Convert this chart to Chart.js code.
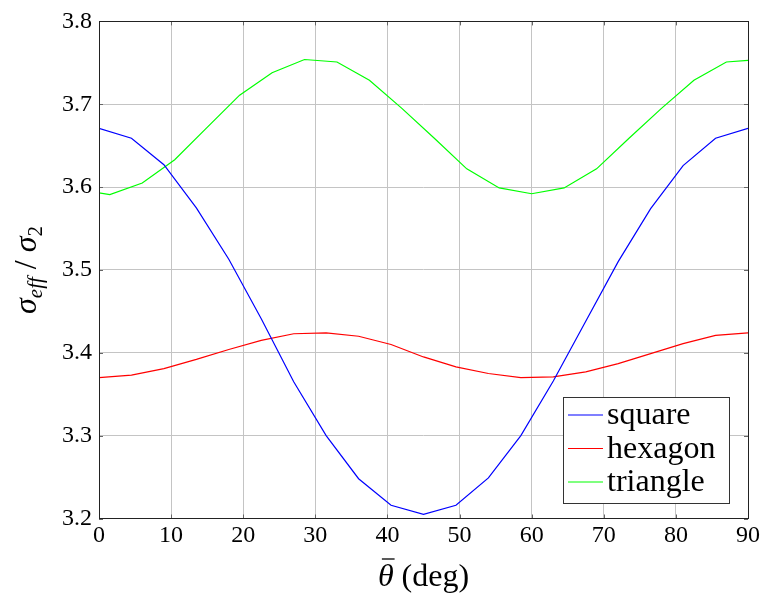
<!DOCTYPE html>
<html>
<head>
<meta charset="utf-8">
<script src="https://cdn.jsdelivr.net/npm/chart.js@4/dist/chart.umd.min.js"></script>
</head>
<body style="margin:0">
<canvas id="warm" width="40" height="20" style="position:absolute;left:0;top:580px;opacity:0"></canvas>
<div id="wrap" style="width:763px;height:598px"><canvas id="chart"></canvas></div>
<div style="position:absolute;left:0;top:590px;font:8px 'Liberation Serif';color:rgba(0,0,0,0)">σ <i>θ</i></div>
<script>
const SERIF = "'Liberation Serif'";

// sample angles (deg)
const thetaGrid = [0, 4.5, 9, 13.5, 18, 22.5, 27, 31.5, 36, 40.5, 45, 49.5, 54, 58.5, 63, 67.5, 72, 76.5, 81, 85.5, 90];
const thetaTriangle = [0, 1.5, 6, 10.5, 15, 19.5, 24, 28.5, 33, 37.5, 42, 46.5, 51, 55.5, 60, 64.5, 69, 73.5, 78, 82.5, 87, 90];

const squareVals = [3.671, 3.659, 3.627, 3.575, 3.513, 3.441, 3.365, 3.300, 3.248, 3.216, 3.205,
	3.216, 3.249, 3.300, 3.366, 3.438, 3.510, 3.574, 3.626, 3.659, 3.671];
const hexagonVals = [3.370, 3.373, 3.381, 3.392, 3.404, 3.415, 3.423, 3.424, 3.420, 3.410, 3.395,
	3.383, 3.375, 3.370, 3.371, 3.377, 3.387, 3.399, 3.411, 3.421, 3.424];
const triangleVals = [3.593, 3.591, 3.605, 3.633, 3.672, 3.711, 3.738, 3.754, 3.751, 3.729, 3.695,
	3.659, 3.622, 3.599, 3.592, 3.599, 3.622, 3.659, 3.695, 3.729, 3.751, 3.753];

const seriesLabels = ["square", "hexagon", "triangle"];
const seriesColors = ["#0000ff", "#ff0000", "#00ff00"];

const xTicks = [0, 10, 20, 30, 40, 50, 60, 70, 80, 90];
const yTicks = [3.2, 3.3, 3.4, 3.5, 3.6, 3.7, 3.8];

// draw once with the serif face on an attached canvas so it is resolved before Chart.js measures
(function warmFonts() {
	const c = document.getElementById("warm").getContext("2d");
	c.font = "28px " + SERIF;
	c.fillText("3.5 hexagon", 0, 18);
	c.font = "italic 28px " + SERIF;
	c.fillText("σθ eff", 0, 18);
})();

function toPoints(xs, ys) {
	return xs.map((x, i) => ({ x: x, y: ys[i] }));
}

function makeSet(i, xs, ys) {
	return {
		label: seriesLabels[i],
		data: toPoints(xs, ys),
		borderColor: seriesColors[i],
		backgroundColor: seriesColors[i],
		borderWidth: 1.2,
		pointRadius: 0,
		tension: 0,
		fill: false,
	};
}

// frame, inward ticks, axis titles and legend box
const decorPlugin = {
	id: "decor",
	afterDraw(chart) {
		const ctx = chart.ctx;
		const a = chart.chartArea;
		const xs = chart.scales.x, ys = chart.scales.y;
		ctx.save();

		// inward ticks
		ctx.strokeStyle = "#666";
		ctx.lineWidth = 1;
		ctx.beginPath();
		xTicks.forEach(v => {
			const px = Math.round(xs.getPixelForValue(v)) + 0.5;
			ctx.moveTo(px, a.bottom); ctx.lineTo(px, a.bottom - 4);
			ctx.moveTo(px, a.top); ctx.lineTo(px, a.top + 4);
		});
		yTicks.forEach(v => {
			const py = Math.round(ys.getPixelForValue(v)) + 0.5;
			ctx.moveTo(a.left, py); ctx.lineTo(a.left + 4, py);
			ctx.moveTo(a.right, py); ctx.lineTo(a.right - 4, py);
		});
		ctx.stroke();

		// frame
		ctx.strokeStyle = "#222";
		ctx.strokeRect(Math.round(a.left) + 0.5, Math.round(a.top) + 0.5,
			Math.round(a.right - a.left), Math.round(a.bottom - a.top));

		// x title: theta-bar (deg)
		ctx.fillStyle = "#000";
		ctx.textBaseline = "alphabetic";
		ctx.textAlign = "left";
		const cx = (a.left + a.right) / 2;
		ctx.font = "italic 32px " + SERIF;
		const thW = ctx.measureText("θ").width;
		ctx.font = "32px " + SERIF;
		const degW = ctx.measureText(" (deg)").width;
		let x0 = cx - (thW + degW) / 2;
		const base = 586;
		ctx.font = "italic 32px " + SERIF;
		ctx.fillText("θ", x0, base);
		ctx.strokeStyle = "#000";
		ctx.lineWidth = 1.3;
		ctx.beginPath();
		ctx.moveTo(x0 + 4, base - 27); ctx.lineTo(x0 + thW + 1, base - 27);
		ctx.stroke();
		ctx.font = "32px " + SERIF;
		ctx.fillText(" (deg)", x0 + thW, base);

		// y title: sigma_eff / sigma_2
		ctx.save();
		ctx.translate(36, (a.top + a.bottom) / 2);
		ctx.rotate(-Math.PI / 2);
		const parts = [
			{ t: "σ", f: "italic 32px " + SERIF, dy: 0 },
			{ t: "eff", f: "italic 21px " + SERIF, dy: 6 },
			{ t: " / ", f: "32px " + SERIF, dy: 0 },
			{ t: "σ", f: "italic 32px " + SERIF, dy: 0 },
			{ t: "2", f: "21px " + SERIF, dy: 6 },
		];
		let total = 0;
		parts.forEach(p => { ctx.font = p.f; p.w = ctx.measureText(p.t).width; total += p.w; });
		let px = -total / 2;
		parts.forEach(p => { ctx.font = p.f; ctx.fillText(p.t, px, p.dy); px += p.w; });
		ctx.restore();

		// legend
		const lx = 563, ly = 397, lw = 166, lh = 106;
		ctx.fillStyle = "#fff";
		ctx.fillRect(lx, ly, lw, lh);
		ctx.strokeStyle = "#333";
		ctx.lineWidth = 1;
		ctx.strokeRect(lx + 0.5, ly + 0.5, lw, lh);
		ctx.font = "32px " + SERIF;
		ctx.textBaseline = "alphabetic";
		chart.data.datasets.forEach((ds, i) => {
			const rowY = 415 + i * 33.5;
			ctx.strokeStyle = ds.borderColor;
			ctx.lineWidth = 1.2;
			ctx.beginPath();
			ctx.moveTo(568, rowY); ctx.lineTo(603, rowY);
			ctx.stroke();
			ctx.fillStyle = "#000";
			ctx.fillText(ds.label, 607, rowY + 9);
		});

		ctx.restore();
	}
};

const chart = new Chart(document.getElementById("chart"), {
	type: "line",
	data: {
		datasets: [
			makeSet(0, thetaGrid, squareVals),
			makeSet(1, thetaGrid, hexagonVals),
			makeSet(2, thetaTriangle, triangleVals),
		]
	},
	options: {
		responsive: true,
		maintainAspectRatio: false,
		animation: false,
		layout: { padding: { top: 8, right: 13, left: 0, bottom: 0 } },
		plugins: {
			legend: { display: false },
			tooltip: { enabled: false },
		},
		scales: {
			x: {
				type: "linear",
				min: 0, max: 90,
				afterBuildTicks(scale) { scale.ticks = xTicks.map(v => ({ value: v })); },
				afterFit(scale) { scale.height = 79.5; },
				grid: { color: "#c4c4c4", lineWidth: 1, drawTicks: false },
				border: { display: false },
				ticks: {
					color: "#000",
					padding: 3,
					maxRotation: 0,
					font: { family: SERIF, size: 24 },
					callback: v => String(v),
				},
			},
			y: {
				type: "linear",
				min: 3.2, max: 3.8,
				afterBuildTicks(scale) { scale.ticks = yTicks.map(v => ({ value: v })); },
				afterFit(scale) { scale.width = 99; },
				grid: { color: "#c4c4c4", lineWidth: 1, drawTicks: false },
				border: { display: false },
				ticks: {
					color: "#000",
					padding: 7,
					font: { family: SERIF, size: 24 },
					callback: v => Number(v).toFixed(1),
				},
			},
		},
	},
	plugins: [decorPlugin],
});

// redraw once fonts are settled, in case the first pass used a fallback face
document.fonts.ready.then(() => chart.update("none"));
window.addEventListener("load", () => chart.update("none"));
</script>
</body>
</html>
